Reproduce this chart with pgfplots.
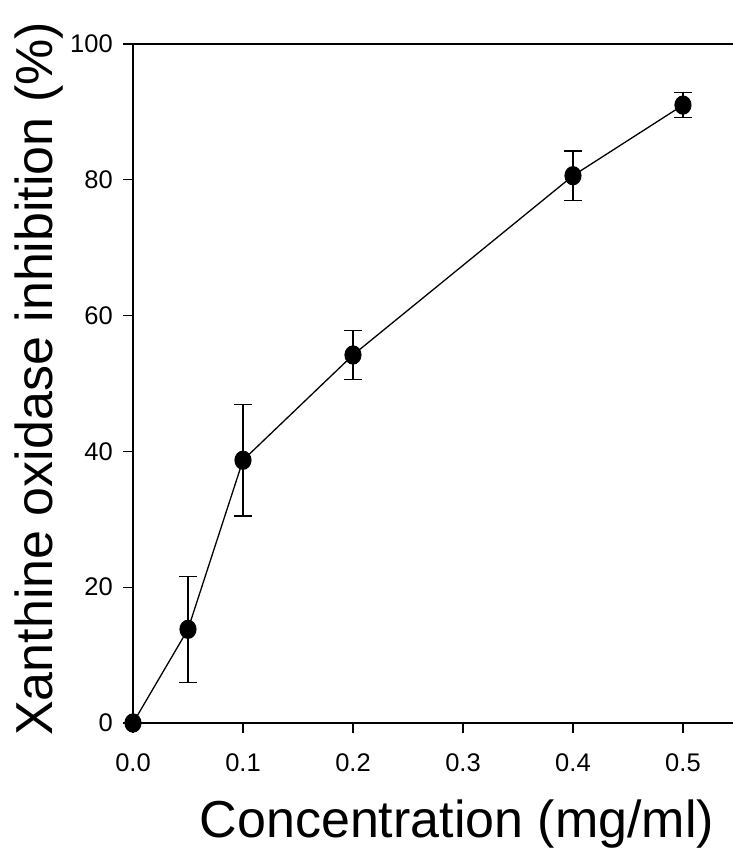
\documentclass[border=0pt]{standalone}
\usepackage{pgfplots}
\pgfplotsset{compat=1.18}
\usepackage{fontspec}
\setmainfont{Liberation Sans}
\newcommand{\tf}[1]{{\fontsize{25.5}{25.5}\selectfont #1}}
\begin{document}
\begin{tikzpicture}
\begin{axis}[
  name=ax,
  scale only axis,
  width=600pt, height=679pt,
  xmin=0, xmax=0.5455, ymin=0, ymax=100,
  axis x line=box, axis y line=left,
  axis line style={-, line width=1.6pt},
  xtick={0,0.1,0.2,0.3,0.4,0.5},
  ytick={0,20,40,60,80,100},
  xticklabels={\tf{0.0},\tf{0.1},\tf{0.2},\tf{0.3},\tf{0.4},\tf{0.5}},
  yticklabels={\tf{0},\tf{20},\tf{40},\tf{60},\tf{80},\tf{100}},
  xtick pos=lower, ytick pos=left,
  tick align=outside,
  major tick length=10pt,
  tick style={line width=1.3pt, black},
  every x tick label/.append style={inner sep=0pt, yshift=-20pt},
  every y tick label/.append style={inner sep=0pt, xshift=-10pt},
  xlabel={Concentration (mg/ml)},
  ylabel={Xanthine oxidase inhibition (\%)},
  label style={font=\fontsize{52}{52}\selectfont, inner sep=0pt},
  xlabel style={at={(axis description cs:0.54,0)}, anchor=base, yshift=-114pt},
  ylabel style={at={(axis description cs:0,0.507)}, anchor=base, yshift=80pt},
  clip=false,
]
\addplot[black, line width=1.3pt, mark=*, mark size=9pt,
  mark options={xscale=0.88, fill=black},
  error bars/.cd, y dir=both, y explicit,
  error bar style={line width=1.3pt},
  error mark options={rotate=90, mark size=9pt, line width=1.3pt}]
  coordinates {
  (0,0) +- (0,0)
  (0.05,13.8) +- (0,7.8)
  (0.1,38.7) +- (0,8.2)
  (0.2,54.2) +- (0,3.6)
  (0.4,80.6) +- (0,3.65)
  (0.5,91.0) +- (0,1.85)
};
\end{axis}
\pgfresetboundingbox
\path (ax.south west) ++(-133pt,-136pt) rectangle ++(733pt,859pt);
\end{tikzpicture}
\end{document}
